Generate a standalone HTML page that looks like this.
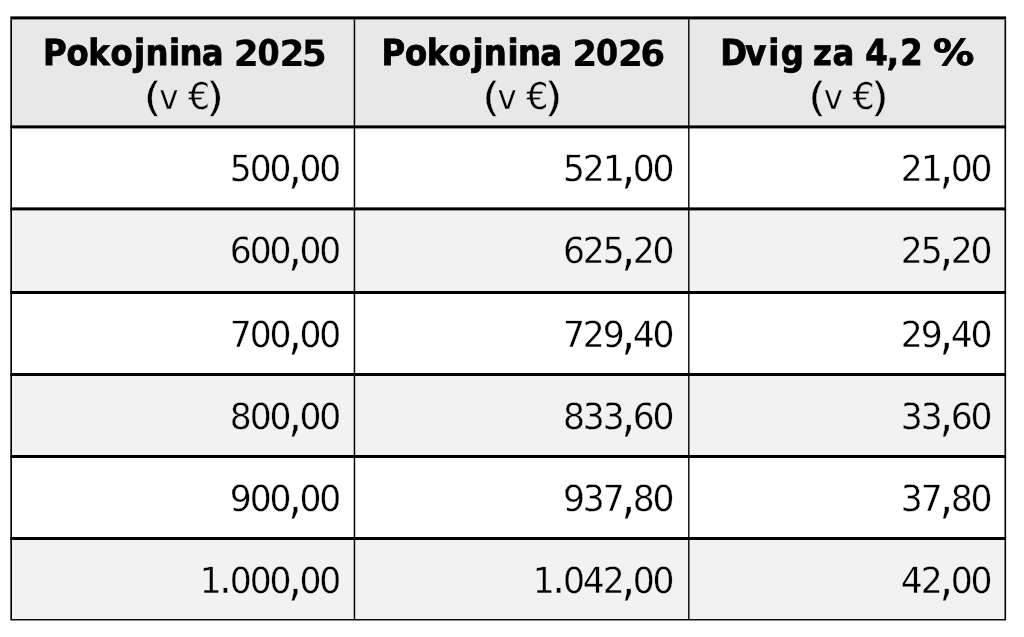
<!DOCTYPE html>
<html lang="sl"><head><meta charset="utf-8"><title>Pokojnine 2025 / 2026</title>
<style>
html,body{margin:0;padding:0;background:#fff;overflow:hidden}
svg{display:block}
text{fill:#000;white-space:pre;text-rendering:geometricPrecision}
.r{font-family:"DejaVu Sans","Liberation Sans",sans-serif}
.rc{font-family:"DejaVu Sans Condensed","DejaVu Sans","Liberation Sans",sans-serif}
.b{font-family:"DejaVu Sans Condensed","DejaVu Sans","Liberation Sans",sans-serif;font-weight:bold}
.bw{font-family:"DejaVu Sans","Liberation Sans",sans-serif;font-weight:bold}
</style></head><body>
<svg width="1024" height="637" viewBox="0 0 1024 637">
<rect width="1024" height="637" fill="#fff"/>
<rect x="10.35" y="16.4" width="995.75" height="112.00" fill="#e8e8e8"/>
<rect x="10.35" y="125.4" width="995.75" height="85.00" fill="#ffffff"/>
<rect x="10.35" y="207.4" width="995.75" height="86.60" fill="#f2f2f2"/>
<rect x="10.35" y="291.0" width="995.75" height="85.00" fill="#ffffff"/>
<rect x="10.35" y="373.0" width="995.75" height="85.00" fill="#f2f2f2"/>
<rect x="10.35" y="455.0" width="995.75" height="85.00" fill="#ffffff"/>
<rect x="10.35" y="537.0" width="995.75" height="83.45" fill="#f2f2f2"/>
<rect x="10.35" y="16.4" width="995.75" height="3.00" fill="#000"/>
<rect x="10.35" y="125.4" width="995.75" height="3.00" fill="#000"/>
<rect x="10.35" y="207.4" width="995.75" height="3.00" fill="#000"/>
<rect x="10.35" y="291.0" width="995.75" height="3.00" fill="#000"/>
<rect x="10.35" y="373.0" width="995.75" height="3.00" fill="#000"/>
<rect x="10.35" y="455.0" width="995.75" height="3.00" fill="#000"/>
<rect x="10.35" y="537.0" width="995.75" height="3.00" fill="#000"/>
<rect x="10.35" y="619.05" width="995.75" height="1.40" fill="#000"/>
<rect x="10.35" y="19.4" width="1.65" height="599.65" fill="#000"/>
<rect x="353.7" y="19.4" width="1.50" height="599.65" fill="#000"/>
<rect x="688.1" y="19.4" width="1.40" height="599.65" fill="#000"/>
<rect x="1004.5" y="19.4" width="1.60" height="599.65" fill="#000"/>
<g style="will-change:transform">
<text class="b" font-size="35.9" stroke="#000" stroke-width="0.8"><tspan x="42.94 66.50 88.35 110.40 133.96 145.40 169.07 179.60 201.78 210.78" y="65.30">Pokojnina </tspan><tspan x="233.85" y="65.50" class="bw" stroke-width="0.2">2</tspan><tspan x="257.54" y="65.30" font-size="35.3" stroke-width="0.5">0</tspan><tspan x="279.55 301.83" y="65.50" class="bw" stroke-width="0.2">25</tspan></text>
<text class="b" font-size="35.9" stroke="#000" stroke-width="0.8"><tspan x="381.39 404.95 426.80 448.85 472.41 483.85 507.52 518.05 540.23 549.23" y="65.30">Pokojnina </tspan><tspan x="572.30" y="65.50" class="bw" stroke-width="0.2">2</tspan><tspan x="595.99" y="65.30" font-size="35.3" stroke-width="0.5">0</tspan><tspan x="618.00 640.26" y="65.50" class="bw" stroke-width="0.2">26</tspan></text>
<text class="b" font-size="35.9" stroke="#000" stroke-width="0.8"><tspan x="720.25 745.36 768.27 780.87 789.87 813.10 832.53 841.53 865.28 886.84 900.29 909.29" y="65.30">Dvig za 4,2 </tspan><tspan x="933.07" y="65.30" textLength="41.42" lengthAdjust="spacingAndGlyphs">%</tspan></text>
<text class="r" font-size="34.6" stroke="#e8e8e8" stroke-width="0.35"><tspan x="143.59" y="110.75" font-size="40.3" textLength="18.24" lengthAdjust="spacingAndGlyphs">(</tspan><tspan x="159.13" y="109.10" font-size="34.6" textLength="19.25" lengthAdjust="spacingAndGlyphs">v</tspan><tspan x="179.00" y="109.10" font-size="34.6"> </tspan><tspan x="187.94" y="109.10" font-size="37.0" textLength="22.13" lengthAdjust="spacingAndGlyphs">€</tspan><tspan x="206.12" y="110.75" font-size="40.3" textLength="18.24" lengthAdjust="spacingAndGlyphs">)</tspan></text>
<text class="r" font-size="34.6" stroke="#e8e8e8" stroke-width="0.35"><tspan x="481.99" y="110.75" font-size="40.3" textLength="18.24" lengthAdjust="spacingAndGlyphs">(</tspan><tspan x="497.53" y="109.10" font-size="34.6" textLength="19.25" lengthAdjust="spacingAndGlyphs">v</tspan><tspan x="517.40" y="109.10" font-size="34.6"> </tspan><tspan x="526.34" y="109.10" font-size="37.0" textLength="22.13" lengthAdjust="spacingAndGlyphs">€</tspan><tspan x="544.52" y="110.75" font-size="40.3" textLength="18.24" lengthAdjust="spacingAndGlyphs">)</tspan></text>
<text class="r" font-size="34.6" stroke="#e8e8e8" stroke-width="0.35"><tspan x="808.14" y="110.75" font-size="40.3" textLength="18.24" lengthAdjust="spacingAndGlyphs">(</tspan><tspan x="823.68" y="109.10" font-size="34.6" textLength="19.25" lengthAdjust="spacingAndGlyphs">v</tspan><tspan x="843.55" y="109.10" font-size="34.6"> </tspan><tspan x="852.49" y="109.10" font-size="37.0" textLength="22.13" lengthAdjust="spacingAndGlyphs">€</tspan><tspan x="870.67" y="110.75" font-size="40.3" textLength="18.24" lengthAdjust="spacingAndGlyphs">)</tspan></text>
<text class="r" font-size="36.0" transform="scale(0.96,1)" stroke="#ffffff" stroke-width="0.35"><tspan x="239.43 260.06 280.68" y="181.10">500</tspan><tspan x="300.29" y="183.10" class="rc" font-size="50">,</tspan><tspan x="311.93 332.56" y="181.10">00</tspan></text>
<text class="r" font-size="36.0" transform="scale(0.96,1)" stroke="#ffffff" stroke-width="0.35"><tspan x="586.52 607.14 628.18" y="181.10">521</tspan><tspan x="647.37" y="183.10" class="rc" font-size="50">,</tspan><tspan x="659.02 679.64" y="181.10">00</tspan></text>
<text class="r" font-size="36.0" transform="scale(0.96,1)" stroke="#ffffff" stroke-width="0.35"><tspan x="938.39 959.43" y="181.10">21</tspan><tspan x="978.62" y="183.10" class="rc" font-size="50">,</tspan><tspan x="990.27 1010.89" y="181.10">00</tspan></text>
<text class="r" font-size="36.0" transform="scale(0.96,1)" stroke="#f2f2f2" stroke-width="0.35"><tspan x="239.43 260.06 280.68" y="263.35">600</tspan><tspan x="300.29" y="265.35" class="rc" font-size="50">,</tspan><tspan x="311.93 332.56" y="263.35">00</tspan></text>
<text class="r" font-size="36.0" transform="scale(0.96,1)" stroke="#f2f2f2" stroke-width="0.35"><tspan x="586.52 607.14 627.77" y="263.35">625</tspan><tspan x="647.37" y="265.35" class="rc" font-size="50">,</tspan><tspan x="659.02 679.64" y="263.35">20</tspan></text>
<text class="r" font-size="36.0" transform="scale(0.96,1)" stroke="#f2f2f2" stroke-width="0.35"><tspan x="938.39 959.02" y="263.35">25</tspan><tspan x="978.62" y="265.35" class="rc" font-size="50">,</tspan><tspan x="990.27 1010.89" y="263.35">20</tspan></text>
<text class="r" font-size="36.0" transform="scale(0.96,1)" stroke="#ffffff" stroke-width="0.35"><tspan x="239.43 260.06 280.68" y="347.35">700</tspan><tspan x="300.29" y="349.35" class="rc" font-size="50">,</tspan><tspan x="311.93 332.56" y="347.35">00</tspan></text>
<text class="r" font-size="36.0" transform="scale(0.96,1)" stroke="#ffffff" stroke-width="0.35"><tspan x="586.52 607.14 627.77" y="347.35">729</tspan><tspan x="647.37" y="349.35" class="rc" font-size="50">,</tspan><tspan x="659.02 679.64" y="347.35">40</tspan></text>
<text class="r" font-size="36.0" transform="scale(0.96,1)" stroke="#ffffff" stroke-width="0.35"><tspan x="938.39 959.02" y="347.35">29</tspan><tspan x="978.62" y="349.35" class="rc" font-size="50">,</tspan><tspan x="990.27 1010.89" y="347.35">40</tspan></text>
<text class="r" font-size="36.0" transform="scale(0.96,1)" stroke="#f2f2f2" stroke-width="0.35"><tspan x="239.43 260.06 280.68" y="429.35">800</tspan><tspan x="300.29" y="431.35" class="rc" font-size="50">,</tspan><tspan x="311.93 332.56" y="429.35">00</tspan></text>
<text class="r" font-size="36.0" transform="scale(0.96,1)" stroke="#f2f2f2" stroke-width="0.35"><tspan x="586.52 607.14 627.77" y="429.35">833</tspan><tspan x="647.37" y="431.35" class="rc" font-size="50">,</tspan><tspan x="659.02 679.64" y="429.35">60</tspan></text>
<text class="r" font-size="36.0" transform="scale(0.96,1)" stroke="#f2f2f2" stroke-width="0.35"><tspan x="938.39 959.02" y="429.35">33</tspan><tspan x="978.62" y="431.35" class="rc" font-size="50">,</tspan><tspan x="990.27 1010.89" y="429.35">60</tspan></text>
<text class="r" font-size="36.0" transform="scale(0.96,1)" stroke="#ffffff" stroke-width="0.35"><tspan x="239.43 260.06 280.68" y="511.35">900</tspan><tspan x="300.29" y="513.35" class="rc" font-size="50">,</tspan><tspan x="311.93 332.56" y="511.35">00</tspan></text>
<text class="r" font-size="36.0" transform="scale(0.96,1)" stroke="#ffffff" stroke-width="0.35"><tspan x="586.52 607.14 627.77" y="511.35">937</tspan><tspan x="647.37" y="513.35" class="rc" font-size="50">,</tspan><tspan x="659.02 679.64" y="511.35">80</tspan></text>
<text class="r" font-size="36.0" transform="scale(0.96,1)" stroke="#ffffff" stroke-width="0.35"><tspan x="938.39 959.02" y="511.35">37</tspan><tspan x="978.62" y="513.35" class="rc" font-size="50">,</tspan><tspan x="990.27 1010.89" y="511.35">80</tspan></text>
<text class="r" font-size="36.0" transform="scale(0.96,1)" stroke="#f2f2f2" stroke-width="0.35"><tspan x="207.97" y="593.35">1</tspan><tspan x="228.08" y="593.35" font-size="42">.</tspan><tspan x="239.43 260.06 280.68" y="593.35">000</tspan><tspan x="300.29" y="595.35" class="rc" font-size="50">,</tspan><tspan x="311.93 332.56" y="593.35">00</tspan></text>
<text class="r" font-size="36.0" transform="scale(0.96,1)" stroke="#f2f2f2" stroke-width="0.35"><tspan x="555.06" y="593.35">1</tspan><tspan x="575.17" y="593.35" font-size="42">.</tspan><tspan x="586.52 607.14 627.77" y="593.35">042</tspan><tspan x="647.37" y="595.35" class="rc" font-size="50">,</tspan><tspan x="659.02 679.64" y="593.35">00</tspan></text>
<text class="r" font-size="36.0" transform="scale(0.96,1)" stroke="#f2f2f2" stroke-width="0.35"><tspan x="938.39 959.02" y="593.35">42</tspan><tspan x="978.62" y="595.35" class="rc" font-size="50">,</tspan><tspan x="990.27 1010.89" y="593.35">00</tspan></text>
</g>
</svg>
</body></html>
